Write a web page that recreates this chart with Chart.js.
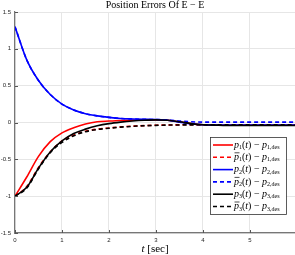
<!DOCTYPE html>
<html>
<head>
<meta charset="utf-8">
<script src="https://cdn.jsdelivr.net/npm/chart.js@4.4.0/dist/chart.umd.min.js"></script>
<style>
  body { margin: 0; background: #fff; }
</style>
</head>
<body>
<canvas id="chart" width="295" height="255"></canvas>
<script>
// time samples [sec]
const tVals = [0, 0.25, 0.5, 0.75, 1, 1.25, 1.5, 1.75, 2, 2.25, 2.5, 2.75, 3, 3.25, 3.5, 3.75, 4, 4.25, 4.5, 4.75, 5, 5.25, 5.5, 5.75, 6];

// values
const p1 = [-1, -0.74, -0.46, -0.26, -0.14, -0.07, -0.02, 0.01, 0.02, 0.028, 0.032, 0.035, 0.035, 0.03, 0.01, -0.015, -0.03, -0.035, -0.035, -0.035, -0.035, -0.035, -0.035, -0.035, -0.035];
const p1bar = [-1, -0.87, -0.61, -0.40, -0.25, -0.17, -0.12, -0.09, -0.075, -0.06, -0.05, -0.042, -0.037, -0.034, -0.032, -0.03, -0.03, -0.03, -0.03, -0.03, -0.03, -0.03, -0.03, -0.03, -0.03];
const p2 = [1.30, 0.85, 0.57, 0.38, 0.25, 0.17, 0.12, 0.09, 0.07, 0.055, 0.048, 0.043, 0.04, 0.03, 0.005, -0.02, -0.03, -0.035, -0.035, -0.035, -0.035, -0.035, -0.035, -0.035, -0.035];
const p2bar = [1.30, 0.85, 0.57, 0.38, 0.25, 0.17, 0.12, 0.09, 0.07, 0.055, 0.048, 0.043, 0.04, 0.035, 0.02, 0.01, 0.005, 0.005, 0.005, 0.005, 0.005, 0.005, 0.005, 0.005, 0.005];
const p3 = [-1, -0.88, -0.62, -0.40, -0.25, -0.15, -0.09, -0.045, -0.015, 0.005, 0.02, 0.03, 0.035, 0.03, 0.01, -0.015, -0.03, -0.035, -0.04, -0.04, -0.04, -0.04, -0.04, -0.04, -0.04];
const p3bar = [-1, -0.89, -0.63, -0.41, -0.27, -0.18, -0.125, -0.095, -0.078, -0.063, -0.052, -0.044, -0.039, -0.035, -0.033, -0.032, -0.031, -0.03, -0.03, -0.03, -0.03, -0.03, -0.03, -0.03, -0.03];

const seriesNames = ["p1(t) − p1,des", "p̄1(t) − p1,des", "p2(t) − p2,des", "p̄2(t) − p2,des", "p3(t) − p3,des", "p̄3(t) − p3,des"];
const seriesColors = ["#ff0000", "#ff0000", "#0000ff", "#0000ff", "#000000", "#000000"];
const seriesDashed = [false, true, false, true, false, true];
const seriesValues = [p1, p1bar, p2, p2bar, p3, p3bar];

const yTicks = [-1.5, -1, -0.5, 0, 0.5, 1, 1.5];
const xTicks = [0, 1, 2, 3, 4, 5];

const titleText = "Position Errors Of E − E";

const datasets = seriesValues.map((vals, i) => ({
    label: seriesNames[i],
    data: vals.map((v, k) => ({ x: tVals[k], y: v })),
    borderColor: seriesColors[i],
    borderWidth: 1.6,
    borderDash: seriesDashed[i] ? [4, 3] : [],
    pointRadius: 0,
    fill: false,
    cubicInterpolationMode: "monotone",
    order: 5 - i,
}));

// draws a legend entry like  p_1(t) - p_{1,des}
function drawEntry(ctx, x, y, i) {
    const n = String(Math.floor(i / 2) + 1);
    const parts = [
        ["p", "it"], [n, "sub"], ["(", "up"], ["t", "it"], [") − ", "up"],
        ["p", "it"], [n + ",des", "sub"]
    ];
    let cx = x;
    parts.forEach((p, k) => {
        if (p[1] === "it") ctx.font = "italic 10px 'Liberation Serif'";
        else if (p[1] === "up") ctx.font = "10px 'Liberation Serif'";
        else ctx.font = "6px 'Liberation Serif'";
        const dy = p[1] === "sub" ? 2.5 : 0;
        ctx.fillText(p[0], cx, y + dy);
        const w = ctx.measureText(p[0]).width;
        if (k === 0 && seriesDashed[i]) {
            ctx.beginPath();
            ctx.moveTo(cx + 0.5, y - 4.5);
            ctx.lineTo(cx + w + 0.5, y - 4.5);
            ctx.lineWidth = 0.7;
            ctx.strokeStyle = "#000";
            ctx.stroke();
        }
        cx += w;
    });
}

const decorations = {
    id: "decorations",
    afterDraw(chart) {
        const ctx = chart.ctx;
        const area = chart.chartArea;
        const xs = chart.scales.x;
        const ys = chart.scales.y;
        ctx.save();

        // inward tick marks
        ctx.strokeStyle = "#555";
        ctx.lineWidth = 1;
        xTicks.forEach(t => {
            const px = Math.round(xs.getPixelForValue(t)) + 0.5;
            ctx.beginPath();
            ctx.moveTo(px, area.bottom);
            ctx.lineTo(px, area.bottom - 3);
            ctx.stroke();
        });
        yTicks.forEach(t => {
            const py = Math.round(ys.getPixelForValue(t)) + 0.5;
            ctx.beginPath();
            ctx.moveTo(area.left, py);
            ctx.lineTo(area.left + 3, py);
            ctx.stroke();
        });

        // title
        ctx.fillStyle = "#000";
        ctx.textAlign = "center";
        ctx.textBaseline = "middle";
        ctx.font = "10px 'Liberation Serif'";
        const cxm = (area.left + area.right) / 2;
        ctx.fillText(titleText, cxm, 5);

        // x axis label
        ctx.textAlign = "left";
        ctx.font = "italic 11px 'Liberation Serif'";
        const tw = ctx.measureText("t ").width;
        ctx.font = "11px 'Liberation Serif'";
        const sw = ctx.measureText("[sec]").width;
        let lx = cxm - (tw + sw) / 2;
        ctx.font = "italic 11px 'Liberation Serif'";
        ctx.fillText("t ", lx, 249);
        ctx.font = "11px 'Liberation Serif'";
        ctx.fillText("[sec]", lx + tw, 249);

        // legend box
        const bx = 210, by = 137.5, bw = 76, bh = 77;
        ctx.fillStyle = "#fff";
        ctx.fillRect(bx, by, bw, bh);
        ctx.strokeStyle = "#333";
        ctx.lineWidth = 0.8;
        ctx.strokeRect(bx + 0.5, by, bw, bh);
        for (let i = 0; i < seriesNames.length; i++) {
            const yy = 145 + i * 12.3;
            ctx.beginPath();
            ctx.setLineDash(seriesDashed[i] ? [4, 3] : []);
            ctx.strokeStyle = seriesColors[i];
            ctx.lineWidth = 1.6;
            ctx.moveTo(213, yy);
            ctx.lineTo(233, yy);
            ctx.stroke();
            ctx.setLineDash([]);
            ctx.fillStyle = "#000";
            ctx.textBaseline = "middle";
            drawEntry(ctx, 234, yy, i);
        }
        ctx.restore();
    }
};

const myChart = new Chart(document.getElementById("chart"), {
    type: "line",
    data: { datasets: datasets },
    options: {
        responsive: false,
        animation: false,
        layout: { padding: { top: 12, right: 0, left: 0, bottom: 0 } },
        plugins: {
            legend: { display: false },
            tooltip: { enabled: false },
        },
        scales: {
            x: {
                type: "linear",
                min: 0,
                max: 5.96,
                afterFit: (s) => { s.height = 22; },
                afterBuildTicks: (s) => { s.ticks = xTicks.map(v => ({ value: v })); },
                ticks: {
                    stepSize: 1,
                    padding: 4,
                    color: "#262626",
                    font: { size: 6, family: "'Liberation Sans'" },
                    maxRotation: 0,
                },
                grid: { color: "#e6e6e6", drawTicks: false },
                border: { color: "#777", width: 1.2 },
            },
            y: {
                min: -1.5,
                max: 1.5,
                afterFit: (s) => { s.width = 15; },
                afterBuildTicks: (s) => { s.ticks = yTicks.map(v => ({ value: v })); },
                ticks: {
                    padding: 4,
                    color: "#262626",
                    font: { size: 6, family: "'Liberation Sans'" },
                    callback: (v) => String(v),
                },
                grid: { color: "#e6e6e6", drawTicks: false },
                border: { color: "#777", width: 1.2 },
            },
        },
    },
    plugins: [decorations],
});
</script>
</body>
</html>
